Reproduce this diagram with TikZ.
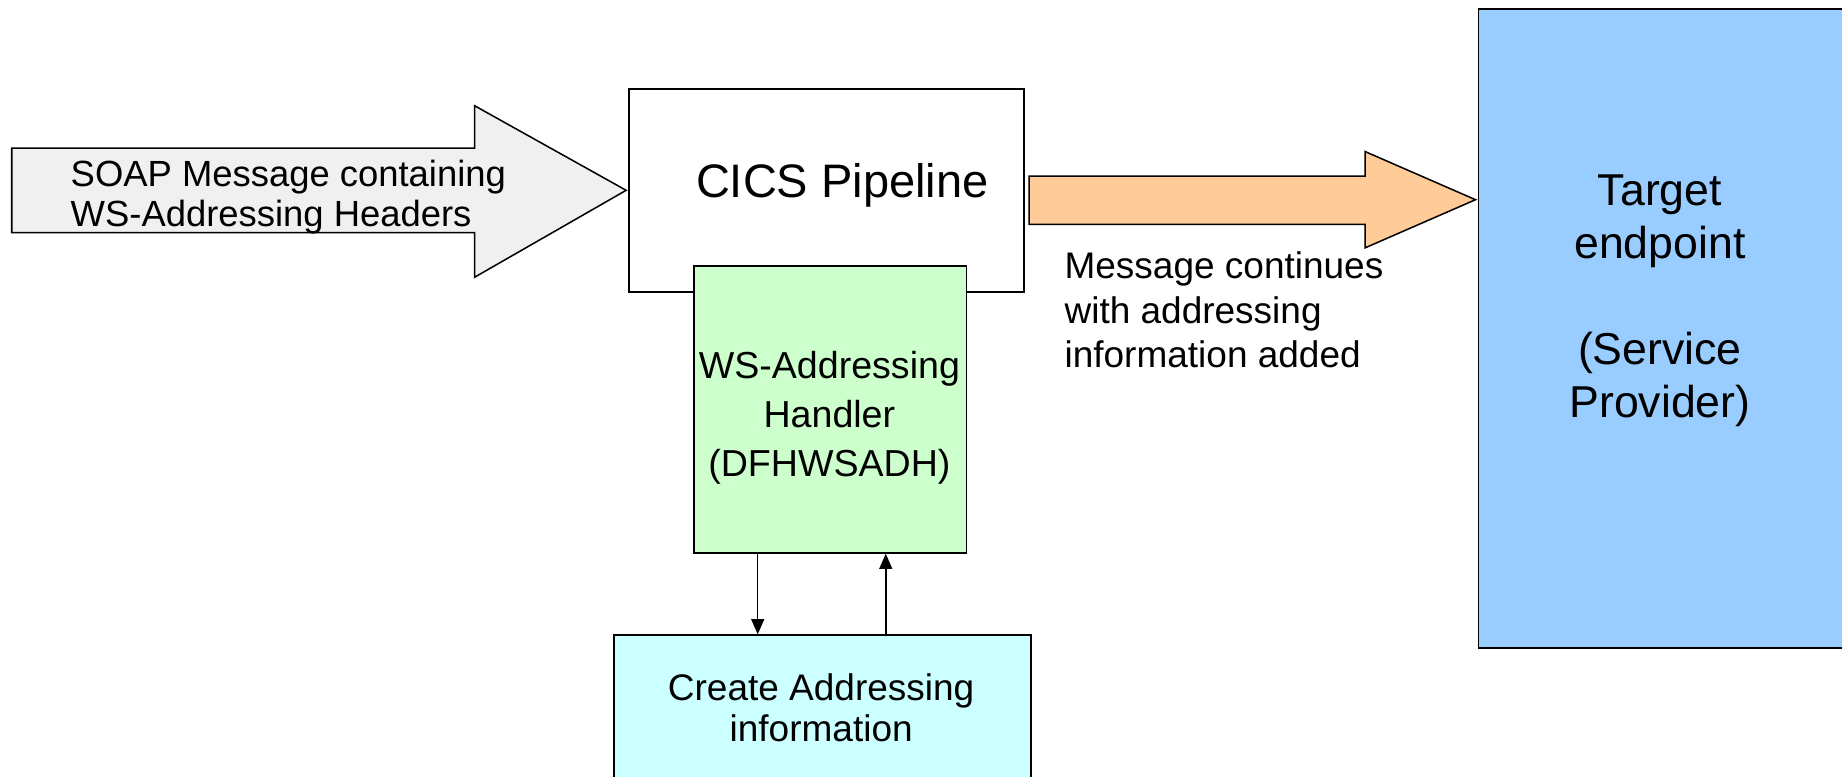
\documentclass[tikz,border=0pt]{standalone}
\usepackage{fontspec}
\setmainfont{Liberation Sans}
\usetikzlibrary{arrows.meta, positioning}
\definecolor{soapgray}{HTML}{F0F0F0}
\definecolor{flowOrange}{HTML}{FFCC99}
\definecolor{handGreen}{HTML}{CCFFCC}
\definecolor{createCyan}{HTML}{CCFFFF}
\definecolor{targetBlue}{HTML}{99CCFF}
\tikzset{
    boxN/.style args={#1 #2 #3}{
        draw, line width=1.3pt, fill=#1,
        minimum width=#2, minimum height=#3,
        inner sep=0pt, anchor=north west
    },
    bigArrow/.style={draw, line width=1.3pt, line join=miter},
    txt/.style args={#1 #2}{inner sep=0pt, font=\fontsize{#1}{#2}\selectfont},
    conn/.style={line width=1.3pt, -{Triangle[length=13pt, width=11pt]}}
}

\begin{document}
\begin{tikzpicture}[x=1pt, y=-1pt]
    \useasboundingbox (0,0) rectangle (1568,661);
    % incoming message
    \draw[bigArrow, fill=soapgray] (10,126) -- (404,126) -- (404,90) -- (533,162) -- (404,236) -- (404,198) -- (10,198) -- cycle;
    \node[txt={31pt 34pt}, align=left, anchor=north west] (soap) at (60,136) {SOAP Message containing\\WS-Addressing Headers};
    % pipeline + handler
    \node[boxN={white 336pt 173pt}] (pipe) at (535,75) {};
    \node[txt={40pt 44pt}, anchor=north] (pipeTxt) at (717,139) {CICS Pipeline};
    \node[boxN={handGreen 232pt 244pt}] (handler) at (590,226) {};
    \node[txt={32pt 41.5pt}, align=center, anchor=north] (handlerTxt) at (706,299) {WS-Addressing\\Handler\\(DFHWSADH)};
    \node[boxN={createCyan 355pt 128pt}] (create) at (522,540) {};
    \node[txt={31.5pt 35pt}, align=center, anchor=north] (createTxt) at (699,573) {Create Addressing\\information};
    % outgoing message
    \draw[bigArrow, fill=flowOrange] (876,150) -- (1162,150) -- (1162,129) -- (1256,170) -- (1162,211) -- (1162,191) -- (876,191) -- cycle;
    \node[txt={31.5pt 38pt}, align=left, anchor=north west] (contTxt) at (906,214) {Message continues\\with addressing\\information added};
    \node[boxN={targetBlue 320pt 544pt}] (target) at (1258,7) {};
    \node[txt={38pt 45pt}, align=center, anchor=north] (targetTxt) at (1413,149) {Target\\endpoint\\[45pt](Service\\Provider)};
    % handler <-> create
    \coordinate (downX) at (645,0);
    \coordinate (upX) at (754,0);
    \draw[conn] (handler.south -| downX) -- (create.north -| downX);
    \draw[conn] (create.north -| upX) -- (handler.south -| upX);
\end{tikzpicture}
\end{document}
